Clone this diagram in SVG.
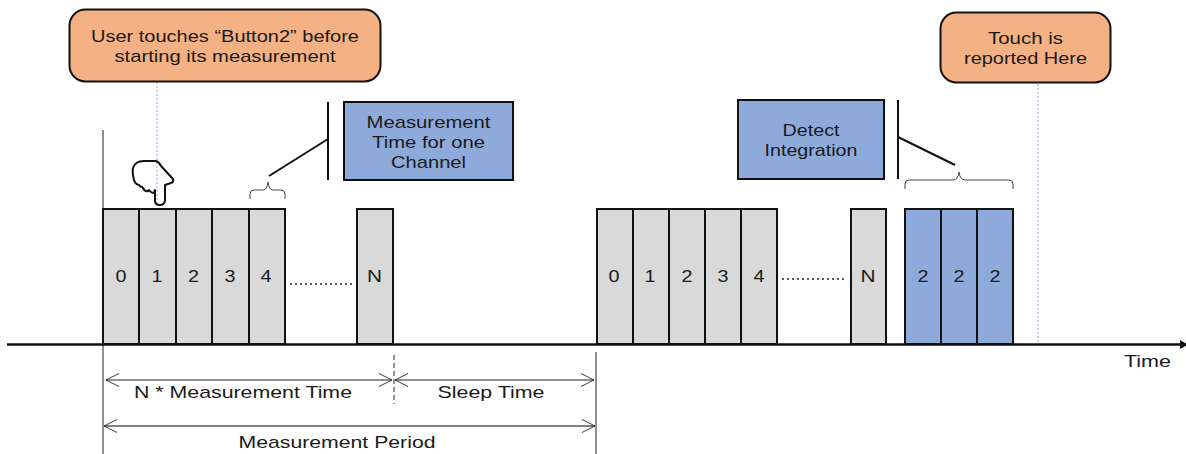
<svg xmlns="http://www.w3.org/2000/svg" width="1186" height="454" viewBox="0 0 1186 454">
<defs>
<marker id="open" viewBox="0 0 14 14" refX="13" refY="7" markerWidth="14" markerHeight="14" markerUnits="userSpaceOnUse" orient="auto-start-reverse"><path d="M0 0.500L13 7L0 13.500" fill="none" stroke="#222" stroke-width="0.900"/></marker>
</defs>
<style>
text{font-family:"Liberation Sans",Arial,sans-serif;font-size:17px;fill:#1a1a1a;text-anchor:middle}
.call{fill:#f4b183;stroke:#111;stroke-width:2}
.blue{fill:#8eaadb;stroke:#111;stroke-width:2}
.slot{fill:#d9d9d9;stroke:#111;stroke-width:2}
.dot{fill:none;stroke:#8eaadb;stroke-width:1;stroke-dasharray:2 2}
.thick{fill:none;stroke:#111;stroke-width:2}
.thin{fill:none;stroke:#222;stroke-width:1}
.brace{fill:none;stroke:#444;stroke-width:1}
.dim{fill:none;stroke:#222;stroke-width:1;marker-start:url(#open);marker-end:url(#open)}
</style>
<g id="connectors">
<path class="dot" d="M157 82V206"/>
<path class="dot" d="M1038 84V344"/>
<path class="thin" d="M103 130V454"/>
<path class="thin" d="M596 352V454"/>
<path d="M394 355V404" fill="none" stroke="#222" stroke-width="1" stroke-dasharray="5 3"/>
<path class="thick" d="M269 176L328 139"/>
<path class="thick" d="M328 102V180"/>
<path class="thick" d="M898 137L955 165"/>
<path class="thick" d="M898 100V179"/>
<path class="brace" d="M250 199V194Q250 190 254 190H263Q267 190 268 182Q269 190 273 190H281Q285 190 285 194V199"/>
<path class="brace" d="M905 189V184Q905 180 909 180H953Q958 180 959 172Q960 180 965 180H1009Q1013 180 1013 184V189"/>
<path class="dim" d="M106 380H392"/>
<path class="dim" d="M395 380H594"/>
<path d="M104 426H595" fill="none" stroke="#555" stroke-width="1.500" marker-start="url(#open)" marker-end="url(#open)"/>
<path d="M7 344.500H1180" fill="none" stroke="#111" stroke-width="2.500"/>
<path d="M1180 340L1188 344.500L1180 349Z" fill="#111"/>
<path d="M290 284H354" fill="none" stroke="#222" stroke-width="1.500" stroke-dasharray="2 3"/>
<path d="M782 279H846" fill="none" stroke="#222" stroke-width="1.500" stroke-dasharray="2 3"/>
</g>
<g id="note-button2"><rect class="call" x="69.500" y="9.500" width="311" height="72" rx="16"/><text x="225" y="42" textLength="268" lengthAdjust="spacingAndGlyphs">User touches “Button2” before</text><text x="225" y="62" textLength="221" lengthAdjust="spacingAndGlyphs">starting its measurement</text></g>
<g id="note-reported"><rect class="call" x="940.500" y="12.500" width="170" height="70" rx="16"/><text x="1025.500" y="44" textLength="75" lengthAdjust="spacingAndGlyphs">Touch is</text><text x="1025.500" y="64" textLength="123" lengthAdjust="spacingAndGlyphs">reported Here</text></g>
<g id="label-channel"><rect class="blue" x="344" y="102" width="169" height="78"/><text x="428.500" y="128" textLength="124" lengthAdjust="spacingAndGlyphs">Measurement</text><text x="428.500" y="148" textLength="113" lengthAdjust="spacingAndGlyphs">Time for one</text><text x="428.500" y="168" textLength="75" lengthAdjust="spacingAndGlyphs">Channel</text></g>
<g id="label-detect"><rect class="blue" x="738" y="100" width="146" height="79"/><text x="811" y="136" textLength="57" lengthAdjust="spacingAndGlyphs">Detect</text><text x="811" y="156" textLength="93" lengthAdjust="spacingAndGlyphs">Integration</text></g>
<g id="hand"><path d="M134 180Q132 172 133 168Q135 161 144 161L156 161Q159 162 161 166L173 179Q174 182 171 183L165 185V201Q164 205 160 205Q155 205 155 201V190L154 193Q151 193 149 190L148 191Q145 192 143 188L142 187Q140 187 139 185Q135 184 134 180Z" fill="none" stroke="#111" stroke-width="2" stroke-linejoin="round"/></g>
<g id="slots-first">
<g id="s1-0"><rect class="slot" x="103" y="209" width="36" height="135"/><text x="121" y="282" textLength="11" lengthAdjust="spacingAndGlyphs">0</text></g>
<g id="s1-1"><rect class="slot" x="139" y="209" width="37" height="135"/><text x="157" y="282" textLength="11" lengthAdjust="spacingAndGlyphs">1</text></g>
<g id="s1-2"><rect class="slot" x="176" y="209" width="36" height="135"/><text x="193.500" y="282" textLength="11" lengthAdjust="spacingAndGlyphs">2</text></g>
<g id="s1-3"><rect class="slot" x="212" y="209" width="37" height="135"/><text x="230" y="282" textLength="11" lengthAdjust="spacingAndGlyphs">3</text></g>
<g id="s1-4"><rect class="slot" x="249" y="209" width="36" height="135"/><text x="266" y="282" textLength="11" lengthAdjust="spacingAndGlyphs">4</text></g>
<g id="s1-n"><rect class="slot" x="357" y="209" width="36" height="135"/><text x="374.500" y="282" textLength="15" lengthAdjust="spacingAndGlyphs">N</text></g>
</g>
<g id="slots-second">
<g id="s2-0"><rect class="slot" x="597" y="209" width="36" height="135"/><text x="614" y="282" textLength="11" lengthAdjust="spacingAndGlyphs">0</text></g>
<g id="s2-1"><rect class="slot" x="633" y="209" width="36" height="135"/><text x="650" y="282" textLength="11" lengthAdjust="spacingAndGlyphs">1</text></g>
<g id="s2-2"><rect class="slot" x="669" y="209" width="36" height="135"/><text x="687" y="282" textLength="11" lengthAdjust="spacingAndGlyphs">2</text></g>
<g id="s2-3"><rect class="slot" x="705" y="209" width="36" height="135"/><text x="723" y="282" textLength="11" lengthAdjust="spacingAndGlyphs">3</text></g>
<g id="s2-4"><rect class="slot" x="741" y="209" width="36" height="135"/><text x="759" y="282" textLength="11" lengthAdjust="spacingAndGlyphs">4</text></g>
<g id="s2-n"><rect class="slot" x="851" y="209" width="35" height="135"/><text x="868" y="282" textLength="15" lengthAdjust="spacingAndGlyphs">N</text></g>
</g>
<g id="slots-detect">
<g id="d-0"><rect class="blue" x="905" y="209" width="36" height="135"/><text x="923" y="282" textLength="11" lengthAdjust="spacingAndGlyphs">2</text></g>
<g id="d-1"><rect class="blue" x="941" y="209" width="36" height="135"/><text x="959" y="282" textLength="11" lengthAdjust="spacingAndGlyphs">2</text></g>
<g id="d-2"><rect class="blue" x="977" y="209" width="36" height="135"/><text x="995" y="282" textLength="11" lengthAdjust="spacingAndGlyphs">2</text></g>
</g>
<g id="labels">
<text x="243" y="398" textLength="218" lengthAdjust="spacingAndGlyphs">N * Measurement Time</text>
<text x="491" y="398" textLength="107" lengthAdjust="spacingAndGlyphs">Sleep Time</text>
<text x="337" y="448" textLength="197" lengthAdjust="spacingAndGlyphs">Measurement Period</text>
<text x="1147.500" y="367" textLength="47" lengthAdjust="spacingAndGlyphs">Time</text>
</g>
</svg>
